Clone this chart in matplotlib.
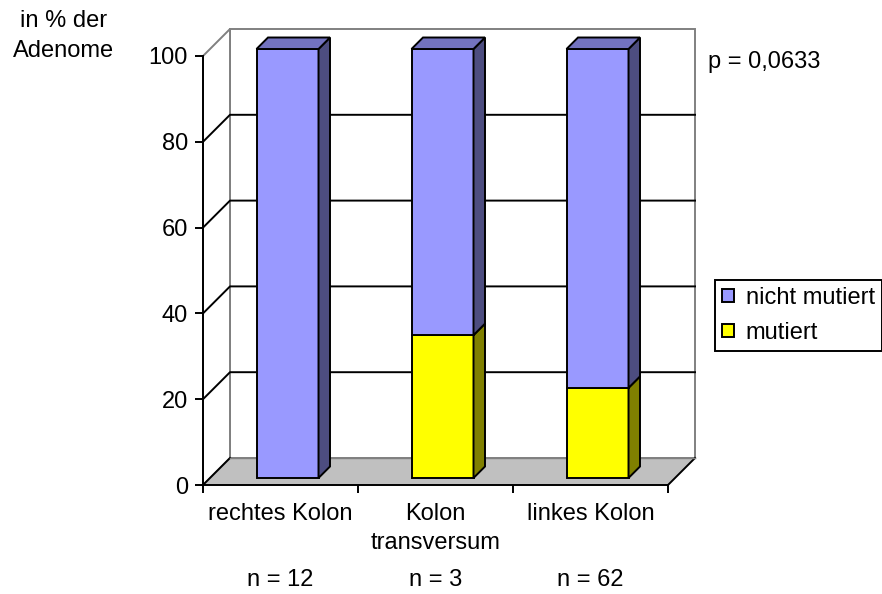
import matplotlib
matplotlib.use("Agg")
import matplotlib.pyplot as plt
from matplotlib.patches import Polygon, Patch
from matplotlib import transforms

plt.rcParams["font.family"] = ["Liberation Sans", "DejaVu Sans"]

# Data
categories = ["rechtes Kolon", "Kolon\ntransversum", "linkes Kolon"]
sample_sizes = ["n = 12", "n = 3", "n = 62"]
mutiert = [0.0, 33.3, 21.0]
nicht_mutiert = [100.0, 66.7, 79.0]
y_ticks = [0, 20, 40, 60, 80, 100]
series_labels = ["nicht mutiert", "mutiert"]
p_text = "p = 0,0633"
y_title = "in % der\nAdenome"

# Styling
FS = 17
BLUE, BLUE_SIDE, BLUE_TOP = "#9999FF", "#4D4D80", "#7373BF"
YELLOW, YELLOW_SIDE, YELLOW_TOP = "#FFFF00", "#808000", "#BFBF00"
FLOOR = "#C0C0C0"
WALL_EDGE = "#808080"
LW = 1.4

W, H, DPI = 882, 594, 100
fig = plt.figure(figsize=(W / DPI, H / DPI), dpi=DPI)
ax = fig.add_axes([203 / W, (H - 485) / H, 465 / W, 429 / H])
ax.set_xlim(-0.5, 2.5)
ax.set_ylim(0, 100)
ax.patch.set_visible(False)

# pixel -> data conversion for the oblique depth direction
p0 = ax.transData.transform((0, 0))
p1 = ax.transData.transform((1, 1))
px_x, px_y = p1[0] - p0[0], p1[1] - p0[1]


def depth(d):
    return d / px_x, d / px_y


WALL_D = 27      # depth of the floor / walls in pixels
BAR_D0 = 7       # front of the bars
BAR_D1 = 18.5    # back of the bars
bar_w = 0.4

dx, dy = depth(WALL_D)
x0, x1 = -0.5, 2.5
ymax = y_ticks[-1]

# back wall and left wall
ax.add_patch(Polygon([(x0 + dx, dy), (x1 + dx, dy), (x1 + dx, ymax + dy), (x0 + dx, ymax + dy)],
                     closed=True, facecolor="white", edgecolor=WALL_EDGE, lw=LW,
                     clip_on=False, zorder=1))
ax.add_patch(Polygon([(x0, 0), (x0 + dx, dy), (x0 + dx, ymax + dy), (x0, ymax)],
                     closed=True, facecolor="white", edgecolor=WALL_EDGE, lw=LW,
                     clip_on=False, zorder=1))
# floor
ax.add_patch(Polygon([(x0, 0), (x1, 0), (x1 + dx, dy), (x0 + dx, dy)],
                     closed=True, facecolor=FLOOR, edgecolor="none",
                     clip_on=False, zorder=1.5))
ax.plot([x0, x0 + dx], [0, dy], color="black", lw=LW, clip_on=False, zorder=1.6)
ax.plot([x1, x1 + dx], [0, dy], color="black", lw=LW, clip_on=False, zorder=1.6)
ax.plot([x0 + dx, x1 + dx], [dy, dy], color=WALL_EDGE, lw=1.0, clip_on=False, zorder=1.6)

# gridlines on left wall and back wall
for v in y_ticks[1:-1]:
    ax.plot([x0, x0 + dx, x1 + dx], [v, v + dy, v + dy], color="black", lw=LW,
            clip_on=False, zorder=2)

# bars
ox0, oy0 = depth(BAR_D0)
ox1, oy1 = depth(BAR_D1)
segments = [(mutiert, YELLOW, YELLOW_SIDE, YELLOW_TOP),
            (nicht_mutiert, BLUE, BLUE_SIDE, BLUE_TOP)]
for i in range(len(categories)):
    bottom = 0.0
    total = mutiert[i] + nicht_mutiert[i]
    for values, front, side, top in segments:
        h = values[i]
        if h <= 0:
            continue
        t = bottom + h
        ax.bar(i + ox0, h, width=bar_w, bottom=bottom + oy0, color=front,
               edgecolor="black", lw=LW, clip_on=False, zorder=3)
        xr = i + bar_w / 2
        ax.add_patch(Polygon([(xr + ox0, bottom + oy0), (xr + ox1, bottom + oy1),
                              (xr + ox1, t + oy1), (xr + ox0, t + oy0)],
                             closed=True, facecolor=side, edgecolor="black", lw=LW,
                             clip_on=False, zorder=3))
        if abs(t - total) < 1e-9:
            xl = i - bar_w / 2
            ax.add_patch(Polygon([(xl + ox0, t + oy0), (xr + ox0, t + oy0),
                                  (xr + ox1, t + oy1), (xl + ox1, t + oy1)],
                                 closed=True, facecolor=top, edgecolor="black", lw=LW,
                                 clip_on=False, zorder=3))
        bottom = t

# axes
for s in ["top", "right"]:
    ax.spines[s].set_visible(False)
for s in ["left", "bottom"]:
    ax.spines[s].set_linewidth(LW)
    ax.spines[s].set_color("black")
    ax.spines[s].set_zorder(2.5)
ax.set_yticks(y_ticks)
ax.set_yticklabels([str(v) for v in y_ticks], fontsize=FS)
ax.set_xticks([x0, 0.5, 1.5, x1])
ax.set_xticklabels([])
ax.tick_params(axis="both", direction="out", length=5.8, width=LW, color="black")
ax.tick_params(axis="y", pad=5)

# category and sample-size labels
blend = transforms.blended_transform_factory(ax.transData, fig.transFigure)
for i, (cat, n) in enumerate(zip(categories, sample_sizes)):
    ax.text(i, 1 - 503 / H, cat, transform=blend, ha="center", va="top",
            fontsize=FS, linespacing=1.42)
    ax.text(i, 1 - 580 / H, n, transform=blend, ha="center", va="center", fontsize=FS)

fig.text(64 / W, 1 - 10 / H, y_title, ha="center", va="top", fontsize=FS,
         linespacing=1.45, multialignment="center")
fig.text(708 / W, 1 - 62 / H, p_text, ha="left", va="center", fontsize=FS)

handles = [Patch(facecolor=BLUE, edgecolor="black", lw=LW),
           Patch(facecolor=YELLOW, edgecolor="black", lw=LW)]
leg = fig.legend(handles, series_labels, loc="upper left",
                 bbox_to_anchor=(715 / W, 1 - 280 / H), fontsize=FS,
                 frameon=True, fancybox=False, framealpha=1, edgecolor="black",
                 handlelength=0.5, handleheight=0.5, handletextpad=0.5,
                 borderpad=0.3, labelspacing=0.55, borderaxespad=0)
leg.get_frame().set_linewidth(LW)

fig.savefig("out.png", dpi=DPI)
